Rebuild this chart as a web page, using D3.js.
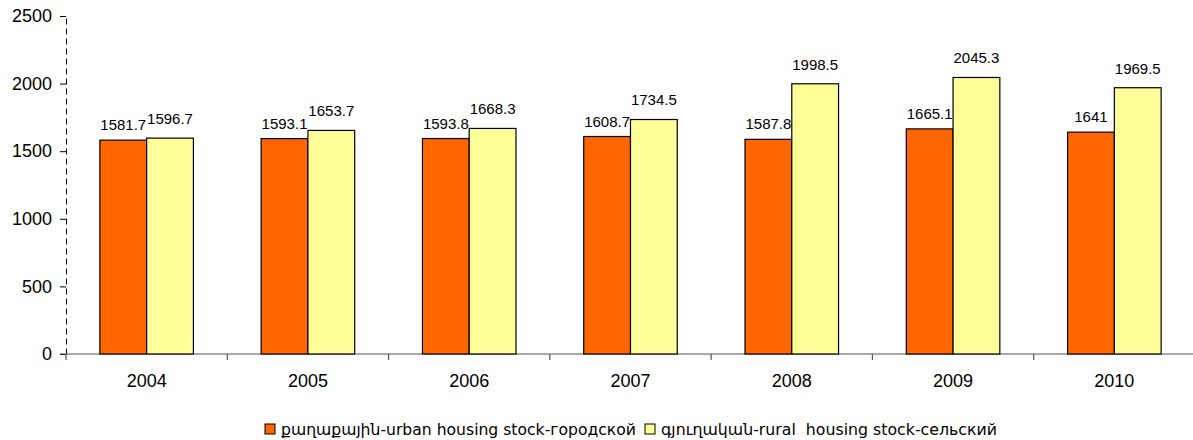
<!DOCTYPE html>
<html>
<head>
<meta charset="utf-8">
<script src="https://cdn.jsdelivr.net/npm/d3@7/dist/d3.min.js"></script>
<style>
  html, body { margin: 0; padding: 0; background: #fff; }
  svg { display: block; }
</style>
</head>
<body>
<svg id="chart" width="1193" height="440"></svg>
<script>
const years = ["2004", "2005", "2006", "2007", "2008", "2009", "2010"];
const urban = [1581.7, 1593.1, 1593.8, 1608.7, 1587.8, 1665.1, 1641];
const rural = [1596.7, 1653.7, 1668.3, 1734.5, 1998.5, 2045.3, 1969.5];
const seriesNames = ["քաղաքային-urban housing stock-городской", "գյուղական-rural  housing stock-сельский"];
const seriesColors = ["#FF6600", "#FFFF99"];
const yTicks = [0, 500, 1000, 1500, 2000, 2500];

(function () {
const svg = d3.select("#chart");
const mLeft = 66, mRight = 1195, mTop = 16, mBottom = 354;
const font = "'Liberation Sans', Arial, 'DejaVu Sans', sans-serif";
const labelGap = [10, 14];

const x = d3.scaleBand().domain(years).range([mLeft, mRight]).paddingInner(0.42).paddingOuter(0.21);
const xs = d3.scaleBand().domain([0, 1]).range([0, x.bandwidth()]);
const y = d3.scaleLinear().domain([0, 2500]).range([mBottom, mTop]);

// Y axis
const yAxis = svg.append("g").attr("transform", `translate(${mLeft},0)`)
  .call(d3.axisLeft(y).tickValues(yTicks).tickFormat(d3.format("d")).tickSize(6).tickSizeOuter(0).tickPadding(8));
yAxis.select(".domain").attr("stroke", "#000").attr("stroke-dasharray", "6,4");
yAxis.selectAll(".tick line").attr("stroke", "#000");
yAxis.selectAll(".tick text").attr("font-family", font).attr("font-size", 18).attr("fill", "#000");

// X axis
const xAxis = svg.append("g").attr("transform", `translate(0,${mBottom})`)
  .call(d3.axisBottom(x).tickSize(0).tickSizeOuter(0).tickPadding(20));
xAxis.select(".domain").remove();
xAxis.append("line").attr("x1", mLeft - 6).attr("x2", 1193).attr("y1", 0).attr("y2", 0)
  .attr("stroke", "#555").attr("stroke-width", 1.2);
const step = x.step();
xAxis.selectAll(".bound").data(d3.range(years.length + 1)).enter().append("line")
  .attr("class", "bound")
  .attr("x1", i => mLeft + i * step).attr("x2", i => mLeft + i * step)
  .attr("y1", 0).attr("y2", 6).attr("stroke", "#555").attr("stroke-width", 1.2);
xAxis.selectAll(".tick text").attr("font-family", font).attr("font-size", 18).attr("fill", "#000");

// Bars
const data = [];
years.forEach((yr, i) => {
  data.push({ yr, s: 0, v: urban[i] });
  data.push({ yr, s: 1, v: rural[i] });
});

svg.append("g").selectAll("rect").data(data).enter().append("rect")
  .attr("x", d => x(d.yr) + xs(d.s))
  .attr("width", xs.bandwidth())
  .attr("y", d => y(d.v))
  .attr("height", d => y(0) - y(d.v))
  .attr("fill", d => seriesColors[d.s])
  .attr("stroke", "#000").attr("stroke-width", 1.2);

svg.append("g").selectAll("text").data(data).enter().append("text")
  .attr("x", d => x(d.yr) + xs(d.s) + xs.bandwidth() / 2)
  .attr("y", d => y(d.v) - labelGap[d.s])
  .attr("text-anchor", "middle")
  .attr("font-family", font).attr("font-size", 15).attr("fill", "#000")
  .text(d => String(d.v));

// Legend
const legend = svg.append("g").attr("transform", "translate(0,429)");
const lfont = "'DejaVu Sans', sans-serif";
const textWidths = [355, 336];
let lx = 265;
seriesNames.forEach((name, i) => {
  legend.append("rect").attr("x", lx).attr("y", -5).attr("width", 10).attr("height", 10)
    .attr("fill", seriesColors[i]).attr("stroke", "#000").attr("stroke-width", 1);
  legend.append("text").attr("x", lx + 16).attr("y", 5.5)
    .attr("font-family", lfont).attr("font-size", 15).attr("fill", "#000")
    .attr("textLength", textWidths[i]).attr("lengthAdjust", "spacingAndGlyphs")
    .style("white-space", "pre")
    .text(name);
  lx = lx + 16 + textWidths[i] + 9;
});
})();
</script>
</body>
</html>
